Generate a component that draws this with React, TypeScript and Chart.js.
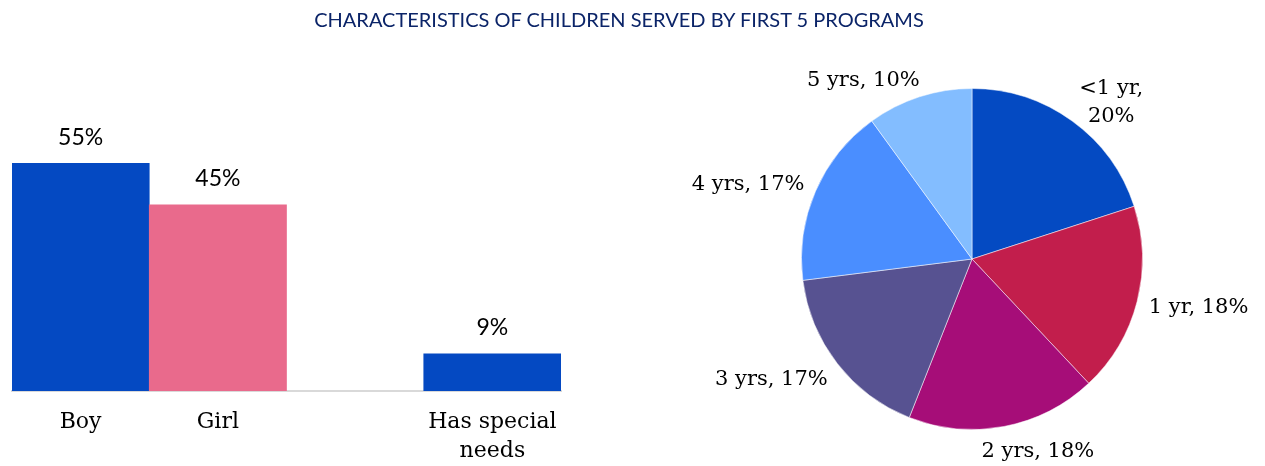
import React, { useEffect, useRef } from "react";
import { Chart, registerables } from "chart.js";

Chart.register(...registerables);

const TITLE = "CHARACTERISTICS OF CHILDREN SERVED BY FIRST 5 PROGRAMS";

const barCategories: (string | string[])[] = ["Boy", "Girl", "", ["Has special", "needs"]];
const barValues: (number | null)[] = [55, 45, null, 9];
const barColors = ["#0449C2", "#E96A8C", "#0449C2", "#0449C2"];
const barYMax = 65;

const pieCategories = ["<1 yr", "1 yr", "2 yrs", "3 yrs", "4 yrs", "5 yrs"];
const pieValues = [20, 18, 18, 17, 17, 10];
const pieColors = ["#044AC2", "#C21E4C", "#A60D78", "#575291", "#4A8EFF", "#83BDFF"];
const pieWrapIndices = [0];

const SERIF = "'DejaVu Serif', serif";
const SANS = "Lato, 'Open Sans', sans-serif";
const AXIS_SIZE = 22;
const AXIS_LINE_H = 29;
const PIE_SIZE = 21;
const PIE_LINE_H = 28;
const VALUE_SIZE = 23;

const barValuePlugin = {
  id: "barValues",
  afterDatasetsDraw(chart: any) {
    const ctx = chart.ctx;
    const meta = chart.getDatasetMeta(0);
    const ds = chart.data.datasets[0];
    ctx.save();
    ctx.font = `${VALUE_SIZE}px ${SANS}`;
    ctx.fillStyle = "#000";
    ctx.textAlign = "center";
    ctx.textBaseline = "middle";
    meta.data.forEach((bar: any, i: number) => {
      const v = ds.data[i];
      if (v === null || v === undefined) return;
      ctx.fillText(`${v}%`, bar.x, bar.y - 26);
    });
    ctx.restore();
  },
};

const pieLabelPlugin = {
  id: "pieLabels",
  afterDatasetsDraw(chart: any) {
    const ctx = chart.ctx;
    const meta = chart.getDatasetMeta(0);
    const ds = chart.data.datasets[0];
    ctx.save();
    ctx.font = `${PIE_SIZE}px ${SERIF}`;
    ctx.fillStyle = "#000";
    ctx.textAlign = "center";
    ctx.textBaseline = "middle";
    meta.data.forEach((arc: any, i: number) => {
      const p = arc.getProps(["x", "y", "startAngle", "endAngle", "outerRadius"], true);
      const mid = (p.startAngle + p.endAngle) / 2;
      const dx = Math.cos(mid);
      const dy = Math.sin(mid);
      const name = chart.data.labels[i];
      const val = `${ds.data[i]}%`;
      const lines = pieWrapIndices.includes(i) ? [`${name},`, val] : [`${name}, ${val}`];
      const w = Math.max(...lines.map((l: string) => ctx.measureText(l).width));
      const h = lines.length * PIE_LINE_H;
      const gap = 12;
      const ax = p.x + dx * (p.outerRadius + gap);
      const ay = p.y + dy * (p.outerRadius + gap);
      const cx = ax + Math.sign(dx) * (w / 2) * Math.min(1, Math.abs(dx) * 3);
      const cy = ay + dy * h * (dy > 0 ? 0.5 : 0.2);
      lines.forEach((l: string, k: number) => {
        ctx.fillText(l, cx, cy - h / 2 + PIE_LINE_H * (k + 0.5));
      });
    });
    ctx.restore();
  },
};

export default function App() {
  const barRef = useRef<HTMLCanvasElement | null>(null);
  const pieRef = useRef<HTMLCanvasElement | null>(null);

  useEffect(() => {
    document.body.style.margin = "0";
    const bar = new Chart(barRef.current as HTMLCanvasElement, {
      type: "bar",
      data: {
        labels: barCategories as any,
        datasets: [
          {
            data: barValues as any,
            backgroundColor: barColors,
            borderWidth: 0,
            barPercentage: 1,
            categoryPercentage: 1,
          },
        ],
      },
      options: {
        animation: false,
        responsive: false,
        devicePixelRatio: 1,
        layout: { padding: { left: 12, right: 59, top: 122, bottom: 2 } },
        plugins: { legend: { display: false }, tooltip: { enabled: false }, title: { display: false } },
        scales: {
          x: {
            grid: { display: false, drawTicks: false },
            border: { display: true, color: "#D9D9D9", width: 2 },
            ticks: {
              color: "#000",
              padding: 17,
              maxRotation: 0,
              autoSkip: false,
              font: { family: SERIF, size: AXIS_SIZE, lineHeight: AXIS_LINE_H / AXIS_SIZE },
            },
          },
          y: { display: false, min: 0, max: barYMax },
        },
      },
      plugins: [barValuePlugin],
    });

    const pie = new Chart(pieRef.current as HTMLCanvasElement, {
      type: "pie",
      data: {
        labels: pieCategories,
        datasets: [
          {
            data: pieValues,
            backgroundColor: pieColors,
            borderColor: "rgba(255,255,255,0.5)",
            borderWidth: 1,
          },
        ],
      },
      options: {
        animation: false,
        responsive: false,
        devicePixelRatio: 1,
        layout: { padding: { left: 181, right: 122, top: 88, bottom: 36 } },
        plugins: { legend: { display: false }, tooltip: { enabled: false } },
      },
      plugins: [pieLabelPlugin],
    });

    return () => {
      bar.destroy();
      pie.destroy();
    };
  }, []);

  return (
    <div style={{ position: "relative", width: 1265, height: 466, background: "#fff", overflow: "hidden" }}>
      <canvas ref={barRef} width={620} height={485} style={{ position: "absolute", left: 0, top: 0 }} />
      <canvas ref={pieRef} width={645} height={466} style={{ position: "absolute", left: 620, top: 0 }} />
      <div
        style={{
          position: "absolute",
          left: 0,
          top: 7,
          width: 1238,
          textAlign: "center",
          fontFamily: "Lato, sans-serif",
          fontSize: 20,
          lineHeight: "24px",
          color: "#0B2468",
        }}
      >
        {TITLE}
      </div>
    </div>
  );
}
